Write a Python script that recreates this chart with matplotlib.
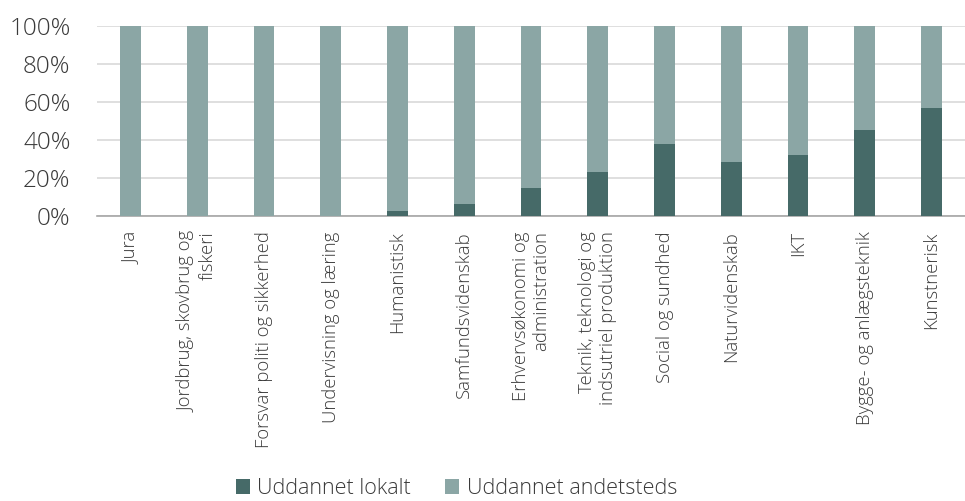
import matplotlib
matplotlib.use('Agg')
import matplotlib.pyplot as plt
import numpy as np

categories = ['Jura', 'Jordbrug, skovbrug og\nfiskeri', 'Forsvar politi og sikkerhed',
              'Undervisning og læring', 'Humanistisk', 'Samfundsvidenskab',
              'Erhvervsøkonomi og\nadministration', 'Teknik, teknologi og\nindsutriel produktion',
              'Social og sundhed', 'Naturvidenskab', 'IKT', 'Bygge- og anlægsteknik',
              'Kunstnerisk']
lokalt = [0, 0, 0, 0, 2.6, 6.4, 14.5, 22.9, 37.7, 28.4, 32.1, 45.0, 56.7]
andetsteds = [100 - v for v in lokalt]

dark = '#466A68'
light = '#8BA6A5'
txt = '#3A3A3A'

plt.rcParams['font.family'] = ['Open Sans', 'DejaVu Sans']
plt.rcParams['font.weight'] = 'light'

fig = plt.figure(figsize=(9.65, 5.01), dpi=100)
ax = fig.add_axes([97 / 965, 1 - 216 / 501, 868 / 965, 190.5 / 501])

x = np.arange(len(categories))
ax.bar(x, lokalt, width=0.31, color=dark, label='Uddannet lokalt', zorder=3)
ax.bar(x, andetsteds, width=0.31, bottom=lokalt, color=light,
       label='Uddannet andetsteds', zorder=3)

ax.set_xlim(-0.5, len(categories) - 0.5)
ax.set_ylim(0, 100)
ax.set_yticks(range(0, 101, 20))
ax.set_yticklabels([f'{v}%' for v in range(0, 101, 20)], fontsize=17.5, color=txt)
ax.set_xticks(x)
ax.set_xticklabels(categories, rotation=90, fontsize=13.3, color=txt,
                   ha='center', va='top', multialignment='right')
ax.tick_params(axis='both', length=0)
ax.tick_params(axis='x', pad=11)
ax.tick_params(axis='y', pad=19)

ax.grid(axis='y', color='#D9D9D9', linewidth=1.2, zorder=0)
for s in ['top', 'right', 'left']:
    ax.spines[s].set_visible(False)
ax.spines['bottom'].set_color('#A6A6A6')
ax.spines['bottom'].set_linewidth(1.2)

fig.legend(loc='lower center', bbox_to_anchor=(0.473, -0.035), ncol=2, frameon=False,
           fontsize=15.5, handlelength=0.65, handleheight=0.65, handletextpad=0.35,
           columnspacing=1.6, labelcolor=txt)

fig.savefig('out.png', dpi=100)
